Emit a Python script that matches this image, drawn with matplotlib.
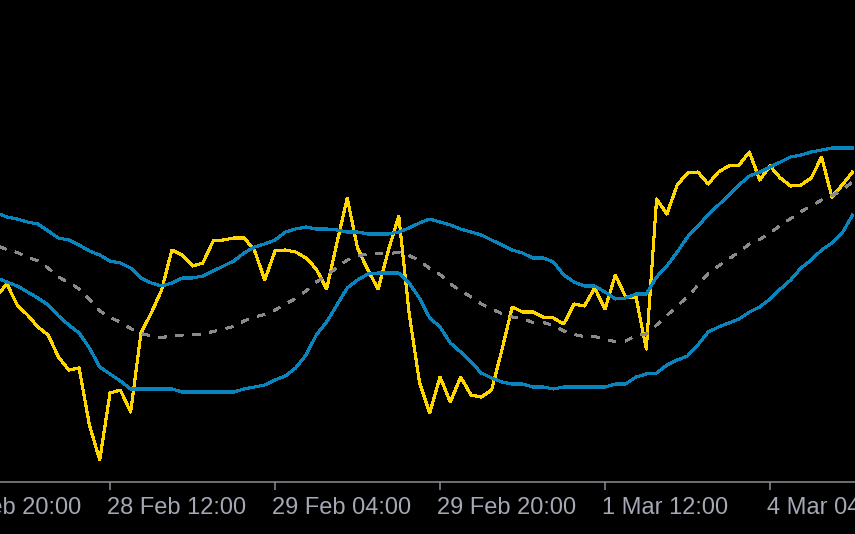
from matplotlib import pyplot as plt
from matplotlib import transforms
import numpy as np

# hourly bars, counted from 28 Feb 12:00 (weekend removed)
bar_index = np.arange(-11, 73)

close = [204, 216, 195, 185, 173, 165, 143, 130, 132, 75, 40,
         107, 110, 88, 167, 187, 210, 250, 245, 234, 237, 259,
         260, 262, 262, 250, 220, 249, 250, 248, 242, 231, 211,
         257, 302, 252, 230, 211, 250, 284, 187, 118, 87, 123,
         98, 123, 105, 103, 110, 150, 193, 188, 188, 183, 182,
         176, 196, 194, 212, 191, 225, 203, 203, 151, 301, 286,
         315, 327, 328, 316, 328, 334, 335, 348, 320, 334, 322,
         314, 315, 322, 343, 303, 315, 328]

upper_band = [287, 283, 281, 278, 276, 269, 262, 260, 255, 249, 245,
              239, 237, 232, 222, 217, 214, 217, 222, 222, 224, 229,
              234, 239, 247, 253, 256, 260, 268, 271, 273, 271, 271,
              270, 268, 268, 266, 266, 266, 268, 272, 277, 281, 278,
              275, 271, 268, 265, 260, 255, 250, 247, 242, 242, 238,
              225, 218, 214, 214, 208, 201, 202, 206, 206, 223, 234,
              248, 263, 274, 285, 295, 305, 315, 324, 328, 333, 338,
              343, 345, 348, 350, 352, 352, 352]

middle_band = [254.5, 250.5, 247.5, 243, 239, 232, 223, 217.5, 211, 200.5, 189,
               182.5, 178, 171.5, 166.5, 164, 162.5, 164, 165, 165, 166, 168.5,
               171, 173.5, 179, 183, 185.5, 190, 196, 201.5, 209, 218, 224.5,
               232.5, 240, 244, 246, 246.5, 246.5, 247.5, 244.5, 239.5, 231.5, 225.5,
               216, 209.5, 203, 196, 191, 186.5, 183, 181.5, 177.5, 177.5, 174.5,
               169, 165.5, 163.5, 163.5, 160.5, 158.5, 159, 164.5, 166, 175, 184.5,
               194, 203.5, 214.5, 226.5, 234, 241, 248, 256, 260.5, 267, 274.5,
               281.5, 288.5, 294, 300, 304.5, 309.5, 318.5]

lower_band = [222, 218, 214, 208, 202, 195, 184, 175, 167, 152, 133,
              126, 119, 111, 111, 111, 111, 111, 108, 108, 108, 108,
              108, 108, 111, 113, 115, 120, 124, 132, 145, 165, 178,
              195, 212, 220, 226, 227, 227, 227, 217, 202, 182, 173,
              157, 148, 138, 127, 122, 118, 116, 116, 113, 113, 111,
              113, 113, 113, 113, 113, 116, 116, 123, 126, 127, 135,
              140, 144, 155, 168, 173, 177, 181, 188, 193, 201, 211,
              220, 232, 240, 250, 257, 267, 285]

tick_bars = [-16, 0, 16, 32, 48, 64]
tick_labels = ['27 Feb 20:00', '28 Feb 12:00', '29 Feb 04:00',
               '29 Feb 20:00', '1 Mar 12:00', '4 Mar 04:00']

BG = 'black'
PRICE_COLOR = '#ffd700'
BAND_COLOR = '#0a84bc'
MID_COLOR = '#8a8a8a'
AXIS_COLOR = '#8c8c96'
TEXT_COLOR = '#a4a8b4'


def draw_chart(ax):
    ax.plot(bar_index, close, color=PRICE_COLOR, lw=1.5, antialiased=False, zorder=2)
    ax.plot(bar_index, middle_band, color=MID_COLOR, lw=1.5,
            linestyle=(0, (3.5, 4.5)), antialiased=False, zorder=3)
    ax.plot(bar_index, upper_band, color=BAND_COLOR, lw=1.5, antialiased=False, zorder=4)
    ax.plot(bar_index, lower_band, color=BAND_COLOR, lw=1.5, antialiased=False, zorder=4)

    ax.set_xlim(-10.67, 72.24)
    ax.set_ylim(18, 500)

    for side in ['top', 'left', 'right']:
        ax.spines[side].set_visible(False)
    ax.spines['bottom'].set_color(AXIS_COLOR)
    ax.spines['bottom'].set_linewidth(1.1)

    ax.set_yticks([])
    visible = [b for b in tick_bars if b >= -10.67]
    ax.set_xticks(visible)
    ax.set_xticklabels([])
    ax.tick_params(axis='x', direction='out', length=5.5, width=1.1, color=AXIS_COLOR)

    # labels start at the tick, MT4 style
    trans = transforms.blended_transform_factory(ax.transData, ax.transAxes)
    for bar, label in zip(tick_bars, tick_labels):
        ax.annotate(label, xy=(bar, 0), xycoords=trans, xytext=(-2.2, -23),
                    textcoords='offset points', ha='left', va='baseline',
                    fontsize=17, family='Liberation Sans', color=TEXT_COLOR,
                    annotation_clip=False)


fig = plt.figure(figsize=(8.55, 5.34), dpi=100, facecolor=BG)
ax = fig.add_axes([0, 52 / 534, 1, 482 / 534], facecolor=BG)
draw_chart(ax)
fig.savefig('out.png', dpi=100, facecolor=BG)
plt.close()
